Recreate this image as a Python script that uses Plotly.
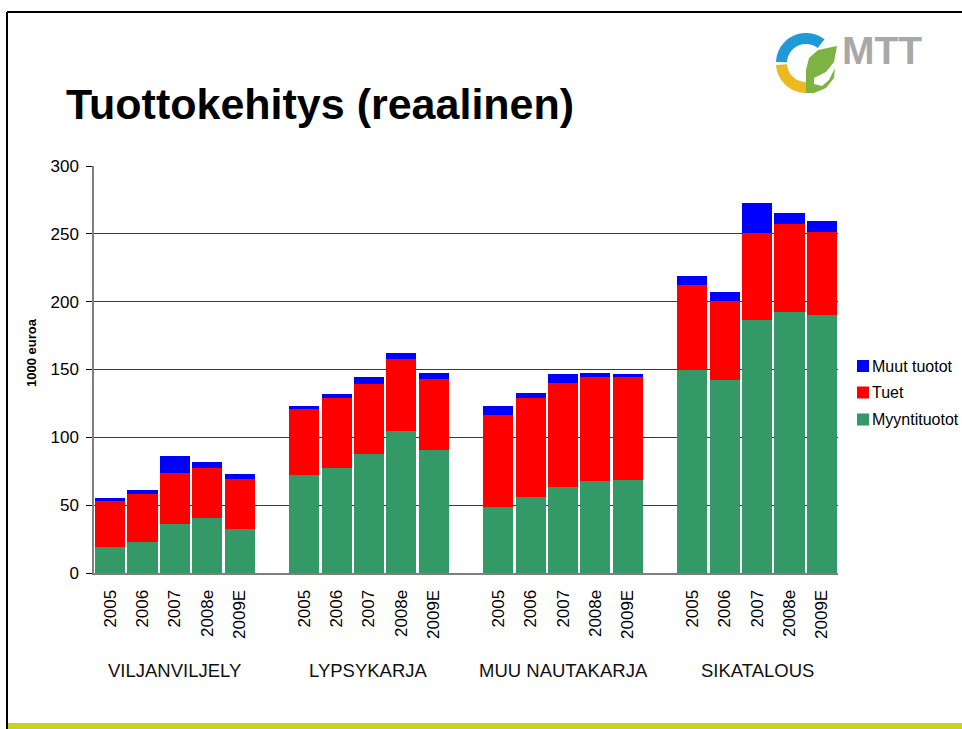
import plotly.graph_objects as go
import numpy as np

groups = ["VILJANVILJELY", "LYPSYKARJA", "MUU NAUTAKARJA", "SIKATALOUS"]
years = ["2005", "2006", "2007", "2008e", "2009E"]

myyntituotot = [19.2, 23.0, 36.4, 40.8, 32.4,
                72.2, 77.6, 87.9, 104.9, 90.9,
                48.6, 56.0, 63.4, 67.8, 68.8,
                149.8, 142.2, 186.4, 192.3, 190.1]
tuet = [33.8, 35.5, 37.3, 36.8, 36.9,
        48.7, 51.6, 51.6, 52.8, 52.1,
        67.8, 73.2, 76.6, 76.6, 75.6,
        62.4, 58.2, 64.2, 65.1, 61.4]
muut_tuotot = [2.3, 2.5, 12.8, 4.2, 3.9,
               2.2, 2.9, 4.9, 4.4, 4.4,
               6.7, 3.4, 6.6, 3.0, 2.2,
               6.7, 6.6, 22.1, 7.9, 7.9]

series_names = ["Myyntituotot", "Tuet", "Muut tuotot"]
series_colors = ["#339966", "#ff0000", "#0000ff"]

FONT = "Liberation Sans, Arial, sans-serif"

# x positions: one empty slot between groups
xpos = [g * (len(years) + 1) + j for g in range(len(groups)) for j in range(len(years))]
xlabels = [y for g in groups for y in years]

fig = go.Figure()
for vals, name, col in zip([myyntituotot, tuet, muut_tuotot], series_names, series_colors):
    fig.add_trace(go.Bar(x=xpos, y=vals, name=name, marker_color=col,
                         marker_line_width=0, showlegend=False))

# plot area in pixels
L, R, T, B = 94, 838, 166, 573
W, H = 962, 729


def px(x):
    return (x - L) / (R - L)


def py(y):
    return (B - y) / (B - T)


annotations = []
shapes = []

for g, name in enumerate(groups):
    annotations.append(dict(x=g * (len(years) + 1) + (len(years) - 1) / 2, xref="x",
                            y=py(670), yref="paper", text=name, showarrow=False,
                            font=dict(family=FONT, size=18.5, color="#111111"),
                            xanchor="center", yanchor="middle"))

annotations.append(dict(x=px(31), y=py(353), xref="paper", yref="paper",
                        text="<b>1000 euroa</b>", textangle=-90, showarrow=False,
                        font=dict(family=FONT, size=13, color="#000000"),
                        xanchor="center", yanchor="middle"))

annotations.append(dict(x=px(64), y=py(104), xref="paper", yref="paper",
                        text="<b>Tuottokehitys (reaalinen)</b>", showarrow=False,
                        font=dict(family=FONT, size=43, color="#000000"),
                        xanchor="left", yanchor="middle"))

annotations.append(dict(x=px(840), y=py(51), xref="paper", yref="paper",
                        text="<b>MTT</b>", showarrow=False,
                        font=dict(family=FONT, size=39, color="#a8a8a8"),
                        xanchor="left", yanchor="middle"))

# legend (top entry = top of stack)
legend_y = [419.5, 392.5, 366]
for name, col, ly in zip(series_names, series_colors, legend_y):
    shapes.append(dict(type="rect", xref="paper", yref="paper", x0=px(857), x1=px(869),
                       y0=py(ly - 6), y1=py(ly + 6), line=dict(width=0), fillcolor=col))
    annotations.append(dict(x=px(870), y=py(ly), xref="paper", yref="paper", text=name,
                            showarrow=False, font=dict(family=FONT, size=16, color="#000000"),
                            xanchor="left", yanchor="middle"))

# slide frame
shapes.append(dict(type="line", xref="paper", yref="paper", x0=px(7), x1=px(962),
                   y0=py(12), y1=py(12), line=dict(color="#000000", width=2)))
shapes.append(dict(type="line", xref="paper", yref="paper", x0=px(7), x1=px(7),
                   y0=py(12), y1=py(729), line=dict(color="#000000", width=2)))
shapes.append(dict(type="rect", xref="paper", yref="paper", x0=px(8), x1=px(962),
                   y0=py(723), y1=py(730), line=dict(width=0), fillcolor="#cbd11f"))


def arc_path(cx, cy, r_out, r_in, a0, a1, n=40):
    a = np.radians(np.linspace(a0, a1, n))
    outer = [(px(cx + r_out * np.cos(t)), py(cy - r_out * np.sin(t))) for t in a]
    inner = [(px(cx + r_in * np.cos(t)), py(cy - r_in * np.sin(t))) for t in a[::-1]]
    pts = outer + inner
    return "M" + " L".join(f"{x:.5f},{y:.5f}" for x, y in pts) + " Z"


cx, cy = 806, 63
shapes.append(dict(type="path", xref="paper", yref="paper",
                   path=arc_path(cx, cy, 30, 19, 52, 178), fillcolor="#1f9ad6",
                   line=dict(width=0)))
shapes.append(dict(type="path", xref="paper", yref="paper",
                   path=arc_path(cx, cy, 30, 19, 184, 272), fillcolor="#ebb920",
                   line=dict(width=0)))
leaf = [(806, 93), (806, 70), (809, 58), (818, 50), (837, 46), (834, 62), (826, 72),
        (814, 78), (814, 84), (822, 86), (829, 80), (833, 72), (835, 68),
        (834, 78), (826, 88), (814, 93)]
shapes.append(dict(type="path", xref="paper", yref="paper",
                   path="M" + " L".join(f"{px(x):.5f},{py(y):.5f}" for x, y in leaf) + " Z",
                   fillcolor="#7cb342", line=dict(width=0)))

fig.update_layout(
    width=W, height=H,
    margin=dict(l=L, r=W - R, t=T, b=H - B, pad=0),
    paper_bgcolor="#ffffff", plot_bgcolor="#ffffff",
    barmode="stack", bargap=0.07,
    font=dict(family=FONT, size=17, color="#000000"),
    showlegend=False,
    xaxis=dict(range=[-0.5, len(xpos) + len(groups) - 1 - 0.5], tickmode="array",
               tickvals=xpos, ticktext=xlabels, tickangle=-90, showgrid=False,
               zeroline=False, showline=True, linecolor="#7f7f7f", linewidth=2,
               ticks="", ticklabelstandoff=8, tickfont=dict(family=FONT, size=17)),
    yaxis=dict(range=[0, 300], tickvals=[0, 50, 100, 150, 200, 250, 300],
               showgrid=True, gridcolor="#3a3a3a", gridwidth=1, zeroline=False,
               showline=True, linecolor="#7f7f7f", linewidth=1.5,
               ticks="outside", ticklen=6, tickcolor="#000000", ticklabelstandoff=4,
               tickfont=dict(family=FONT, size=17)),
    annotations=annotations,
    shapes=shapes,
)

fig.write_html(
    "out.html",
    config={"responsive": False, "displayModeBar": False},
    post_script="document.body.style.margin='0';document.body.style.overflow='hidden';"
                "document.documentElement.style.overflow='hidden';",
)
